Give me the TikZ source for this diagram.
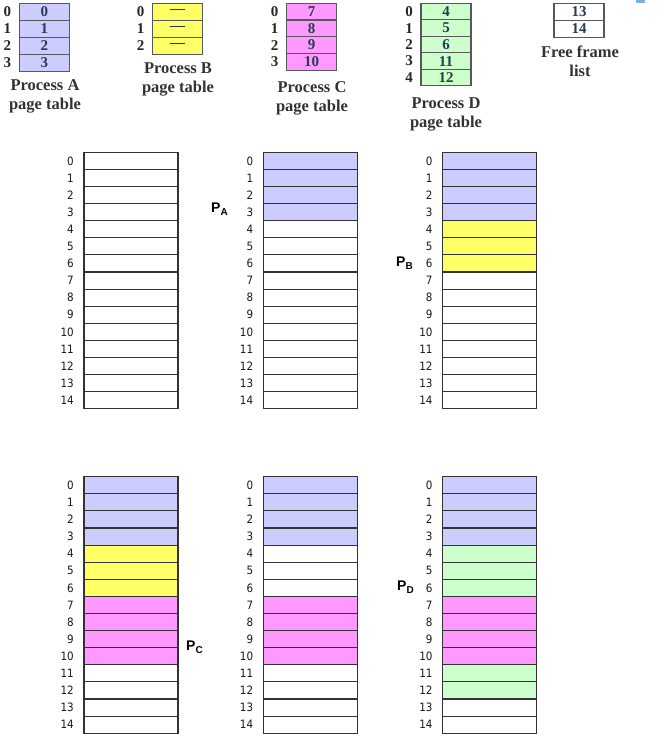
\documentclass[tikz,border=0pt]{standalone}
\usepackage{fontspec}
\setmainfont{Liberation Serif}
\newfontfamily\numfont{DejaVu Sans Condensed}
\newfontfamily\pfont{Liberation Sans}
\definecolor{pblue}{HTML}{CCCCFF}
\definecolor{pyel}{HTML}{FFFF66}
\definecolor{pmag}{HTML}{FF99FF}
\definecolor{pgrn}{HTML}{CCFFCC}
\definecolor{tabtxt}{HTML}{2B3A4E}
\definecolor{tabline}{HTML}{55595F}
\definecolor{frline}{HTML}{333333}
\definecolor{markblue}{HTML}{7FB0E0}
\tikzset{
  frcell/.style={draw=frline, line width=1.1pt, minimum width=94pt, minimum height=17.1pt, inner sep=0pt, outer sep=0pt, anchor=north west},
  frnum/.style={font=\numfont\fontsize{11.5}{12}\selectfont, anchor=east, inner sep=0pt, text=black!90},
  ptcell/.style={draw=tabline, line width=1.2pt, minimum width=50pt, inner sep=0pt, outer sep=0pt, anchor=north west, text=tabtxt, font=\bfseries\fontsize{15}{15}\selectfont},
  ptidx/.style={font=\bfseries\fontsize{15}{15}\selectfont, inner sep=0pt, text=black!85},
  ptlabel/.style={font=\bfseries\fontsize{16.5}{19.5}\selectfont, inner sep=0pt, text=black!80, anchor=base},
  plabel/.style={font=\pfont\bfseries\fontsize{14}{14}\selectfont, inner sep=0pt, anchor=west}
}
% frame column: #1 name, #2 x, #3 y, #4 colours (15)
\newcommand{\framecol}[4]{%
  \foreach \c [count=\i from 0] in {#4} {
    \node[frcell, fill=\c] (#1r\i) at (#2, #3+\i*17.1) {};
    \node[frnum] (#1n\i) at (#2-10, #3+\i*17.1+8.55) {\i};
  }%
}
% page table: #1 name, #2 x, #3 y, #4 row height, #5 colour, #6 entries
\newcommand{\ptable}[6]{%
  \foreach \v [count=\i from 0] in {#6} {
    \node[ptcell, fill=#5, minimum height=#4pt] (#1r\i) at (#2, #3+\i*#4) {\v};
    \node[ptidx] (#1i\i) at (#2-12, #3+\i*#4+#4/2) {\i};
  }%
}
\newcommand{\psub}[1]{\raisebox{-3pt}{\fontsize{10}{10}\selectfont #1}}
\begin{document}
\begin{tikzpicture}[x=1pt, y=-1pt]
\useasboundingbox (0,0) rectangle (659,744);
\fill[white] (0,0) rectangle (659,744);
\fill[markblue] (636,0) rectangle (645,3);

% page tables
\ptable{A}{19.3}{3.3}{17}{pblue}{0,1,2,3}
\node[ptlabel] (la1) at (45,90) {Process A};
\node[ptlabel] (la2) at (45,109) {page table};
\ptable{B}{152.7}{3.3}{17}{pyel}{---,---,---}
\node[ptlabel] (lb1) at (178,73.5) {Process B};
\node[ptlabel] (lb2) at (178,92.5) {page table};
\ptable{C}{286.7}{3.3}{16.7}{pmag}{7,8,9,10}
\node[ptlabel] (lc1) at (312,92) {Process C};
\node[ptlabel] (lc2) at (312,111) {page table};
\ptable{D}{421}{3.3}{16.5}{pgrn}{4,5,6,11,12}
\node[ptlabel] (ld1) at (446,108) {Process D};
\node[ptlabel] (ld2) at (446,127) {page table};
\node[ptcell, fill=white, minimum height=17pt] (F0) at (554,3.3) {13};
\node[ptcell, fill=white, minimum height=17pt] (F1) at (554,20.3) {14};
\node[ptlabel] (lf1) at (580,57.5) {Free frame};
\node[ptlabel] (lf2) at (580,76.5) {list};

% frame columns, top row
\framecol{a}{84}{152.3}{white,white,white,white,white,white,white,white,white,white,white,white,white,white,white}
\framecol{b}{263.3}{152.3}{pblue,pblue,pblue,pblue,white,white,white,white,white,white,white,white,white,white,white}
\framecol{c}{442.7}{152.3}{pblue,pblue,pblue,pblue,pyel,pyel,pyel,white,white,white,white,white,white,white,white}
% bottom row
\framecol{d}{84}{476.7}{pblue,pblue,pblue,pblue,pyel,pyel,pyel,pmag,pmag,pmag,pmag,white,white,white,white}
\framecol{e}{263.3}{476.7}{pblue,pblue,pblue,pblue,white,white,white,pmag,pmag,pmag,pmag,white,white,white,white}
\framecol{f}{442.7}{476.7}{pblue,pblue,pblue,pblue,pgrn,pgrn,pgrn,pmag,pmag,pmag,pmag,pgrn,pgrn,white,white}

% process labels
\node[plabel] (PA) at (211,209) {P\psub{A}};
\node[plabel] (PB) at (396,263) {P\psub{B}};
\node[plabel] (PC) at (186,647) {P\psub{C}};
\node[plabel] (PD) at (397,587) {P\psub{D}};
\end{tikzpicture}
\end{document}
